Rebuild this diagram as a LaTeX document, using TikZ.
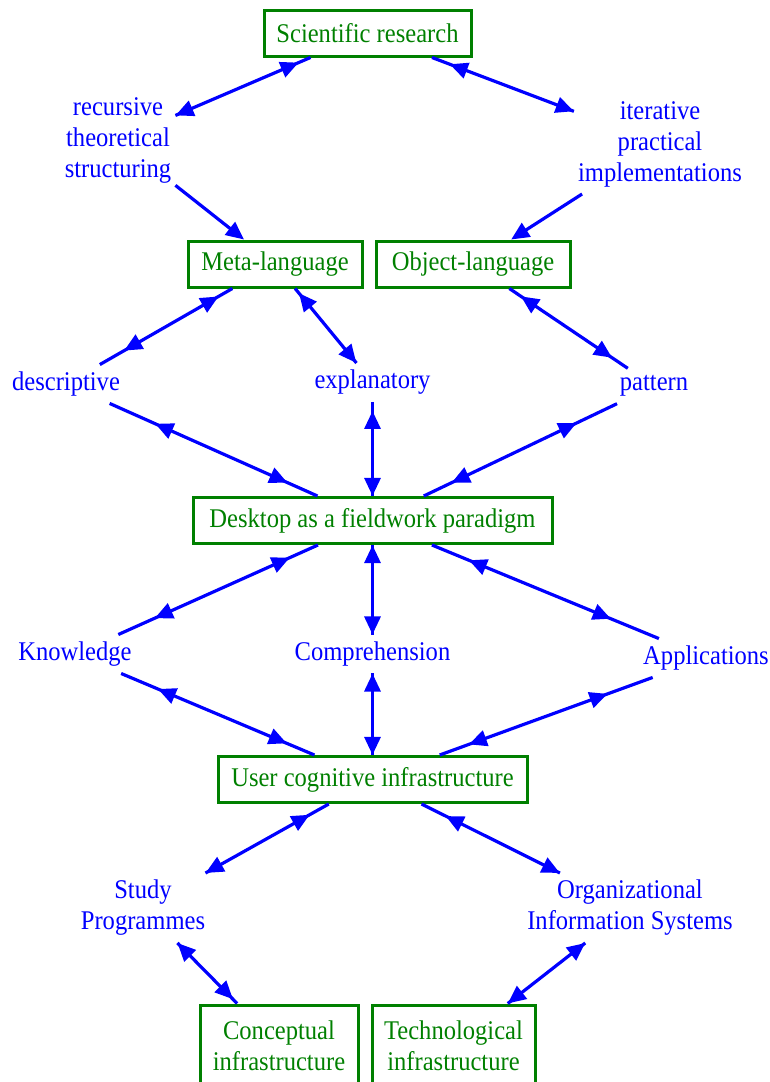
\documentclass[tikz,border=0pt]{standalone}
\usepackage{fontspec}
\setmainfont{Liberation Serif}[FakeStretch=0.91]
\usetikzlibrary{arrows.meta,decorations.markings}
\definecolor{boxgreen}{RGB}{0,128,0}
\definecolor{linkblue}{RGB}{0,0,255}
\tikzset{
  box/.style={draw=boxgreen, text=boxgreen, line width=3pt, minimum height=46pt, inner sep=0pt},
  lbl/.style={text=linkblue, align=center, inner xsep=4pt, inner ysep=7pt},
  link/.style 2 args={color=linkblue, line width=3.2pt, postaction={decorate},
    decoration={markings,
      mark=at position #1pt with {\arrowreversed{Triangle[length=18pt,width=16pt]}},
      mark=at position -#2pt with {\arrow{Triangle[length=18pt,width=16pt]}}}},
  oneway/.style={color=linkblue, line width=3.2pt, -{Triangle[length=18pt,width=16pt]}}
}
\begin{document}
\begin{tikzpicture}[x=1pt, y=-1pt, font=\fontsize{27}{31}\selectfont]
\clip (0,0) rectangle (769,1082);
\node[box, minimum width=207pt] (sci) at (367.5,33) {Scientific research};
\node[lbl] (rec) at (118,140) {recursive\\theoretical\\structuring};
\node[lbl] (iter) at (660,144) {iterative\\practical\\implementations};
\node[box, minimum width=174pt] (meta) at (275,264) {Meta-language};
\node[box, minimum width=194pt] (obj) at (473,264) {Object-language};
\node[lbl] (desc) at (66,384) {descriptive};
\node[lbl] (expl) at (372.5,382.5) {explanatory};
\node[lbl] (patt) at (654,386) {pattern};
\node[box, minimum width=359pt] (desk) at (372.5,520.5) {Desktop as a fieldwork paradigm};
\node[lbl] (know) at (75,654) {Knowledge};
\node[lbl] (comp) at (372.5,654) {Comprehension};
\node[lbl] (appl) at (706,658) {Applications};
\node[box, minimum width=309pt] (user) at (372.5,779.5) {User cognitive infrastructure};
\node[lbl] (study) at (143,908) {Study\\Programmes};
\node[lbl] (org) at (630,908) {Organizational\\Information Systems};
\node[box, align=center, minimum width=158pt, minimum height=82pt] (conc) at (279,1046) {Conceptual\\infrastructure};
\node[box, align=center, minimum width=163pt, minimum height=82pt] (tech) at (453.5,1046) {Technological\\infrastructure};

\draw[link={13}{0.1}] (sci) -- (rec);
\draw[link={19}{0.1}] (sci) -- (iter);
\draw[oneway] (rec) -- (meta);
\draw[oneway] (iter) -- (obj);
\draw[link={16}{28}] (meta) -- (desc);
\draw[link={6}{0.1}] (meta) -- (expl);
\draw[link={14}{19}] (obj) -- (patt);
\draw[link={50}{33}] (desc) -- (desk);
\draw[link={9}{0.1}] (expl) -- (desk);
\draw[link={45}{31}] (patt) -- (desk);
\draw[link={31}{40}] (desk) -- (know);
\draw[link={0.1}{0.1}] (desk) -- (comp);
\draw[link={40}{52}] (desk) -- (appl);
\draw[link={40}{30}] (know) -- (user);
\draw[link={0.1}{0.1}] (comp) -- (user);
\draw[link={48}{31}] (appl) -- (user);
\draw[link={22}{0.1}] (user) -- (study);
\draw[link={27}{0.1}] (user) -- (org);
\draw[link={0.1}{6}] (study) -- (conc);
\draw[link={0.1}{0.1}] (org) -- (tech);
\end{tikzpicture}
\end{document}
